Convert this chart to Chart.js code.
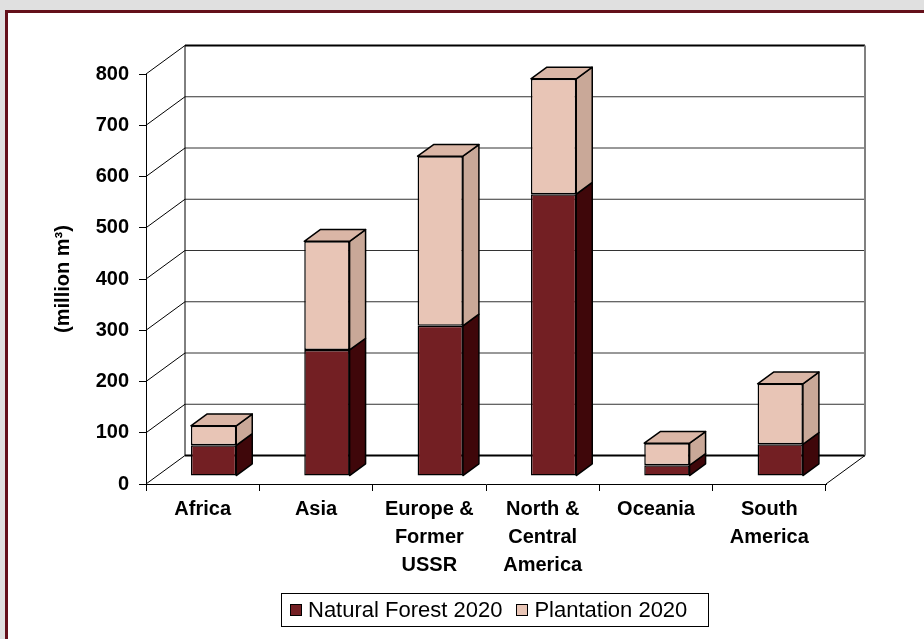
<!DOCTYPE html>
<html>
<head>
<meta charset="utf-8">
<script src="https://cdn.jsdelivr.net/npm/chart.js@4.4.1/dist/chart.umd.min.js"></script>
<style>
body { margin: 0; background: #e0e0e0; overflow: hidden; width: 924px; height: 639px; position: relative; font-family: "Liberation Sans", Arial, sans-serif; }
#panel { position: absolute; left: 5px; top: 10px; width: 1000px; height: 1000px; background: #fff; border: 3px solid #64101a; }
#wrap { position: absolute; left: 0; top: 0; width: 924px; height: 639px; }
#legend { position: absolute; left: 281px; top: 593px; width: 418px; height: 32px; border: 1px solid #000; display: flex; align-items: center; font-size: 22px; color: #000; padding-left: 8px; box-sizing: content-box; white-space: nowrap; }
#legend .item { display: flex; align-items: center; margin-right: 14px; }
#legend .sw { width: 10px; height: 10px; border: 1px solid #000; margin-right: 6px; }
</style>
</head>
<body>
<div id="panel"></div>
<div id="wrap"><canvas id="forestChart" width="924" height="639"></canvas></div>
<div id="legend"></div>
<script>
// Regions (multi-line labels under the floor)
const regions = [
  "Africa",
  "Asia",
  ["Europe &", "Former", "USSR"],
  ["North &", "Central", "America"],
  "Oceania",
  ["South", "America"]
];

// million m3
const naturalForest2020 = [60, 246, 293, 550, 21, 62];
const plantation2020 = [38, 212, 331, 225, 43, 118];

const yTicks = [0, 100, 200, 300, 400, 500, 600, 700, 800];

// front colour, side colour, top colour
const naturalColors = ["#731f23", "#3f070a", "#5a1216"];
const plantationColors = ["#e8c5b6", "#c9a898", "#dab6a6"];

// oblique depth of the box (back wall offset)
const DX = 39, DY = -28.5;
// bars sit between these fractions of the depth
const BAR_FRONT = 0.28, BAR_DEPTH = 0.41;

Chart.defaults.font.family = "'Liberation Sans', Arial, sans-serif";
Chart.defaults.color = "#000";

const faces = {
  id: "faces",
  beforeDatasetsDraw(chart) {
    const { ctx, chartArea: a, scales: { y } } = chart;
    ctx.save();
    ctx.lineCap = "butt";
    // back wall grid + diagonals back to the front axis
    yTicks.forEach(v => {
      const py = y.getPixelForValue(v);
      ctx.strokeStyle = "#000";
      ctx.lineWidth = 1;
      ctx.beginPath();
      ctx.moveTo(a.left, py);
      ctx.lineTo(a.left + DX, py + DY);
      ctx.stroke();
      ctx.lineWidth = (v === 0 || v === 800) ? 2 : 1;
      ctx.strokeStyle = (v === 0 || v === 800) ? "#000" : "#333";
      ctx.beginPath();
      ctx.moveTo(a.left + DX, py + DY);
      ctx.lineTo(a.right + DX, py + DY);
      ctx.stroke();
    });
    const top = y.getPixelForValue(800) + DY, bot = y.getPixelForValue(0) + DY;
    ctx.strokeStyle = "#000";
    ctx.lineWidth = 1;
    ctx.beginPath();
    ctx.moveTo(a.left + DX, top);
    ctx.lineTo(a.left + DX, bot);
    ctx.stroke();
    ctx.strokeStyle = "#808080";
    ctx.lineWidth = 2;
    ctx.beginPath();
    ctx.moveTo(a.right + DX, top);
    ctx.lineTo(a.right + DX, bot);
    ctx.stroke();
    // floor right edge
    ctx.strokeStyle = "#000";
    ctx.lineWidth = 1;
    ctx.beginPath();
    ctx.moveTo(a.right, a.bottom);
    ctx.lineTo(a.right + DX, a.bottom + DY);
    ctx.stroke();
    ctx.restore();

    // bar fronts are drawn a little way into the box
    ctx.save();
    ctx.translate(DX * BAR_FRONT, DY * BAR_FRONT);
  },
  afterDatasetsDraw(chart) {
    const { ctx } = chart;
    ctx.restore();
    const ox = DX * BAR_FRONT, oy = DY * BAR_FRONT;
    const dx = DX * BAR_DEPTH, dy = DY * BAR_DEPTH;
    ctx.save();
    ctx.lineWidth = 1.5;
    ctx.strokeStyle = "#000";
    ctx.lineJoin = "round";
    const last = chart.data.datasets.length - 1;
    chart.data.datasets.forEach((ds, di) => {
      const cols = di === 0 ? naturalColors : plantationColors;
      chart.getDatasetMeta(di).data.forEach(bar => {
        const p = bar.getProps(["x", "y", "base", "width"], true);
        const l = p.x - p.width / 2 + ox, r = p.x + p.width / 2 + ox;
        const t = p.y + oy, b = p.base + oy;
        // side
        ctx.fillStyle = cols[1];
        ctx.beginPath();
        ctx.moveTo(r, b);
        ctx.lineTo(r + dx, b + dy);
        ctx.lineTo(r + dx, t + dy);
        ctx.lineTo(r, t);
        ctx.closePath();
        ctx.fill();
        ctx.stroke();
        if (di === last) {
          ctx.fillStyle = cols[2];
          ctx.beginPath();
          ctx.moveTo(l, t);
          ctx.lineTo(l + dx, t + dy);
          ctx.lineTo(r + dx, t + dy);
          ctx.lineTo(r, t);
          ctx.closePath();
          ctx.fill();
          ctx.stroke();
        }
      });
    });
    ctx.restore();
  }
};

const chart = new Chart(document.getElementById("forestChart"), {
  type: "bar",
  data: {
    labels: regions,
    datasets: [
      {
        label: "Natural Forest 2020",
        data: naturalForest2020,
        backgroundColor: naturalColors[0],
        borderColor: "#000",
        borderWidth: 1.5,
        borderSkipped: false
      },
      {
        label: "Plantation 2020",
        data: plantation2020,
        backgroundColor: plantationColors[0],
        borderColor: "#000",
        borderWidth: 1.5,
        borderSkipped: false
      }
    ]
  },
  options: {
    responsive: false,
    animation: false,
    devicePixelRatio: 1,
    barPercentage: 0.4,
    categoryPercentage: 1,
    layout: { padding: { top: 74, right: 98, left: 0, bottom: 0 } },
    plugins: { legend: { display: false }, tooltip: { enabled: false } },
    scales: {
      x: {
        stacked: true,
        grid: { drawOnChartArea: false, tickLength: 7, color: "#000", offset: true },
        border: { color: "#000", width: 1 },
        ticks: {
          font: { size: 20, weight: "bold", lineHeight: 1.38 },
          padding: 5,
          maxRotation: 0,
          autoSkip: false
        },
        afterFit(s) { s.height = 155; }
      },
      y: {
        stacked: true,
        min: 0,
        max: 800,
        afterBuildTicks(s) { s.ticks = yTicks.map(v => ({ value: v })); },
        grid: { drawOnChartArea: false, tickLength: 7, color: "#000" },
        border: { color: "#000", width: 1 },
        ticks: { font: { size: 20, weight: "bold" }, padding: 10 },
        title: {
          display: true,
          text: "(million m³)",
          font: { size: 20, weight: "bold" },
          padding: { top: 51 }
        },
        afterFit(s) { s.width = 146; }
      }
    }
  },
  plugins: [faces]
});

// legend built from the datasets
const legend = document.getElementById("legend");
chart.data.datasets.forEach(ds => {
  const item = document.createElement("span");
  item.className = "item";
  const sw = document.createElement("span");
  sw.className = "sw";
  sw.style.background = ds.backgroundColor;
  item.appendChild(sw);
  item.appendChild(document.createTextNode(ds.label));
  legend.appendChild(item);
});
</script>
</body>
</html>
